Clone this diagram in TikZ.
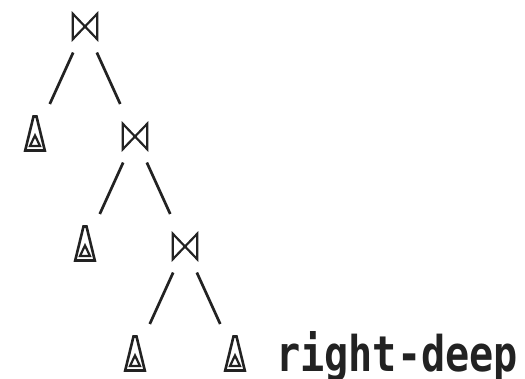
\documentclass[tikz,border=0pt]{standalone}
\usepackage{fontspec}
\newfontfamily\planfont{DejaVu Sans Mono}
\definecolor{ink}{HTML}{222222}
\tikzset{
  op/.style={inner sep=0pt, minimum width=24pt, minimum height=25pt},
  rel/.style={inner sep=0pt, minimum size=1pt},
  edge/.style={ink, line width=2.7pt, shorten <=28.6pt, shorten >=35.7pt},
}
\begin{document}
\begin{tikzpicture}[x=1pt, y=-1pt]
			\useasboundingbox (0,0) rectangle (525,379);
			\node [op] (j1) at (85,26.5) {};
			\node [op] (j2) at (135,136.5) {};
			\node [op] (j3) at (185,246.5) {};
			\node [rel] (t1) at (35,136.5) {};
			\node [rel] (t2) at (85,246.5) {};
			\node [rel] (t3) at (135,356.5) {};
			\node [rel] (t4) at (235,356.5) {};
			\draw [edge] (j1.center) -- (t1.center);
			\draw [edge] (j1.center) -- (j2.center);
			\draw [edge] (j2.center) -- (t2.center);
			\draw [edge] (j2.center) -- (j3.center);
			\draw [edge] (j3.center) -- (t3.center);
			\draw [edge] (j3.center) -- (t4.center);
			\foreach \n in {j1, j2, j3} \draw [ink, line width=2.2pt] (\n.north west) -- (\n.south east) -- (\n.north east) -- (\n.south west) -- cycle;
			\foreach \n in {t1, t2, t3, t4} {
				\draw [ink, line width=2.6pt] ([shift={(-9.8,14)}]\n.center) -- ([shift={(-1.5,-20)}]\n.center) -- ([shift={(1.5,-20)}]\n.center) -- ([shift={(9.8,14)}]\n.center) -- cycle;
				\draw [ink, line width=2.2pt] ([shift={(-5,9.5)}]\n.center) -- ([shift={(0,-1)}]\n.center) -- ([shift={(5,9.5)}]\n.center) -- cycle;
			}
			\node [anchor=base west, inner sep=0pt, text=ink] (tag) at (276,372) {\resizebox{242pt}{40pt}{\planfont\bfseries right-deep}};
		\end{tikzpicture}
\end{document}
